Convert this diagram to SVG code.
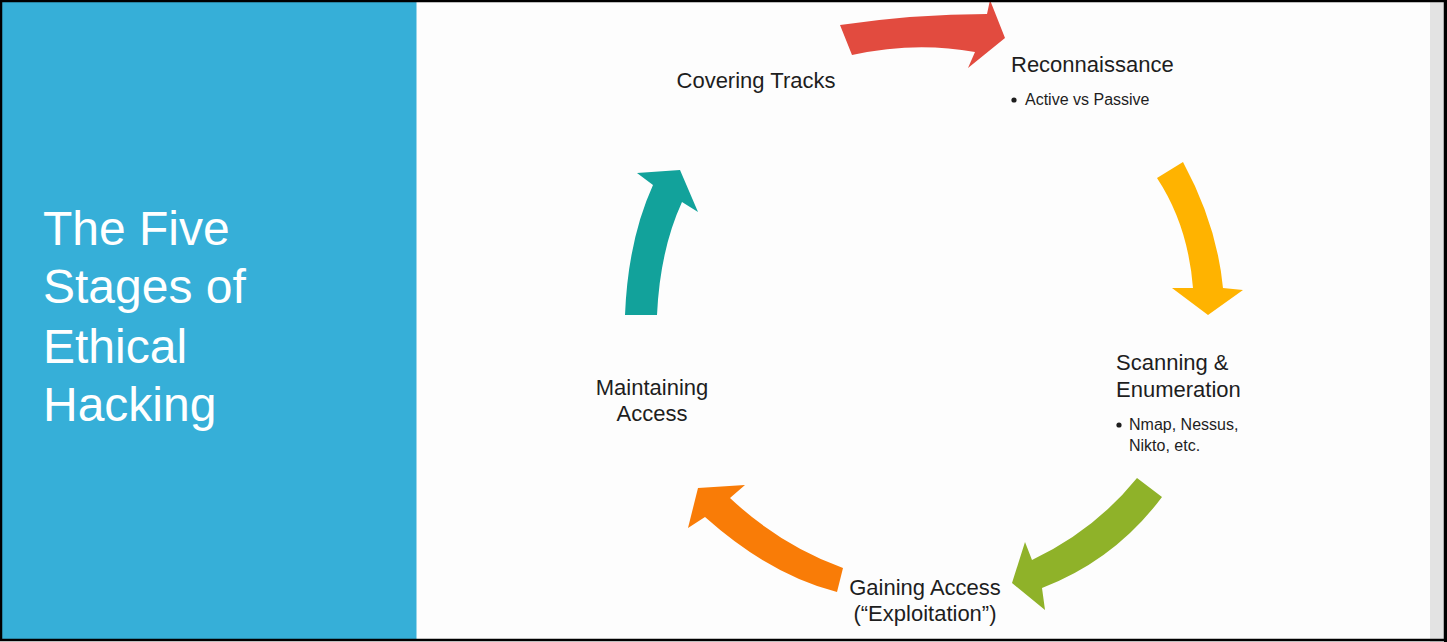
<svg xmlns="http://www.w3.org/2000/svg" width="1447" height="642" viewBox="0 0 1447 642">
<style>
.lbl{font-family:"Liberation Sans",Arial,sans-serif;font-size:22px;fill:#1e1e1e}
.sub{font-family:"Liberation Sans",Arial,sans-serif;font-size:16px;fill:#1e1e1e}
.title{font-family:"Liberation Sans",Arial,sans-serif;font-size:48px;fill:#ffffff}
.c{text-anchor:middle}
</style>
<rect x="0" y="0" width="1447" height="642" fill="#fdfdfd"/>
<rect x="1430" y="0" width="15" height="642" fill="#e3e3e3"/>
<g id="title-panel">
<rect x="2" y="2" width="414.5" height="638" fill="#36afd8"/>
<text class="title" x="43" y="245">The Five</text>
<text class="title" x="43" y="303">Stages of</text>
<text class="title" x="43" y="363">Ethical</text>
<text class="title" x="43" y="421">Hacking</text>
</g>
<g id="connectors">
<path id="arrow-red" fill="#e24b3f" d="M840,25 Q915,14 987,14 L990,0 L1005,38 L968,68 L975,52 Q915,41 852,55 Z"/>
<path id="arrow-yellow" fill="#ffb300" d="M1157,178 Q1188,225 1193,288 L1172,288 L1208,315 L1243,290 L1223,288 Q1217,225 1183,162 Z"/>
<path id="arrow-green" fill="#8fb229" d="M1137,478 Q1095,530 1032,560 L1025,542 L1012,583 L1045,610 L1042,588 Q1115,560 1162,497 Z"/>
<path id="arrow-orange" fill="#f97c07" d="M843,568 Q780,545 730,498 L745,485 L698,488 L688,528 L705,517 Q770,575 837,592 Z"/>
<path id="arrow-teal" fill="#12a29b" d="M625,315 Q628,240 653,185 L637,173 L680,170 L698,212 L682,202 Q660,250 657,315 Z"/>
</g>
<g id="node-reconnaissance">
<text class="lbl" x="1011" y="72">Reconnaissance</text>
<circle cx="1014" cy="100" r="2.6" fill="#1e1e1e"/>
<text class="sub" x="1025" y="105">Active vs Passive</text>
</g>
<g id="node-scanning">
<text class="lbl" x="1116" y="370">Scanning &amp;</text>
<text class="lbl" x="1116" y="397">Enumeration</text>
<circle cx="1119" cy="425" r="2.6" fill="#1e1e1e"/>
<text class="sub" x="1129" y="430">Nmap, Nessus,</text>
<text class="sub" x="1129" y="451">Nikto, etc.</text>
</g>
<g id="node-gaining">
<text class="lbl c" x="925" y="595">Gaining Access</text>
<text class="lbl c" x="925" y="621">(“Exploitation”)</text>
</g>
<g id="node-maintaining">
<text class="lbl c" x="652" y="395">Maintaining</text>
<text class="lbl c" x="652" y="421">Access</text>
</g>
<g id="node-covering">
<text class="lbl c" x="756" y="88">Covering Tracks</text>
</g>
<rect x="1" y="1" width="1444" height="639" fill="none" stroke="#000" stroke-width="2.5"/>
<rect x="1444" y="0" width="3" height="642" fill="#000"/>
</svg>
